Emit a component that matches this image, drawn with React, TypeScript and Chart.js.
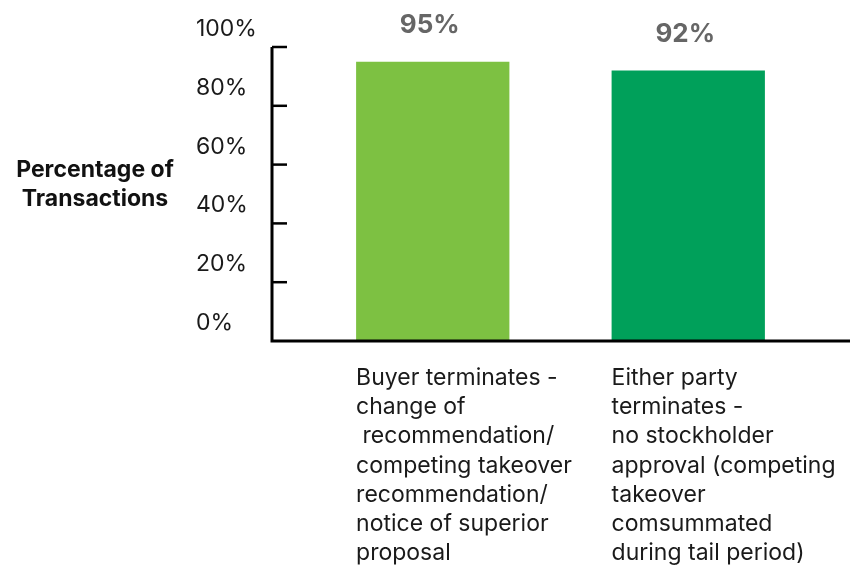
import { useEffect, useRef } from 'react';
import { Chart, registerables } from 'chart.js';

Chart.register(...registerables);

const categories: string[][] = [
  ['Buyer terminates -', 'change of', ' recommendation/', 'competing takeover', 'recommendation/', 'notice of superior', 'proposal'],
  ['Either party', 'terminates -', 'no stockholder', 'approval (competing', 'takeover', 'comsummated', 'during tail period)'],
];
const values = [95, 92];
const valueLabels = ['95%', '92%'];
const barColors = ['#7DC142', '#00A05A'];
const yTickValues = [0, 20, 40, 60, 80, 100];
const yTickLabels = ['0%', '20%', '40%', '60%', '80%', '100%'];
const yTitle = ['Percentage of', 'Transactions'];

const FONT = "Inter, 'Noto Sans', sans-serif";

const decorPlugin = {
  id: 'decor',
  afterDraw(chart: any) {
    const { ctx, chartArea } = chart;
    const y = chart.scales.y;
    const axisX = chartArea.left - 33;
    const right = chart.width;
    const base = y.getPixelForValue(0);
    ctx.save();
    // axes
    ctx.strokeStyle = '#000';
    ctx.lineWidth = 3;
    ctx.beginPath();
    ctx.moveTo(axisX, y.getPixelForValue(100));
    ctx.lineTo(axisX, base);
    ctx.lineTo(right, base);
    ctx.stroke();
    // tick marks & labels
    ctx.lineWidth = 2.5;
    ctx.font = `23px ${FONT}`;
    ctx.fillStyle = '#1a1a1a';
    ctx.textAlign = 'left';
    ctx.textBaseline = 'alphabetic';
    yTickValues.forEach((v, i) => {
      const py = y.getPixelForValue(v);
      if (v > 0) {
        ctx.beginPath();
        ctx.moveTo(axisX, py);
        ctx.lineTo(axisX + 15, py);
        ctx.stroke();
      }
      ctx.fillText(yTickLabels[i], axisX - 76, py - 11);
    });
    // category labels
    const meta = chart.getDatasetMeta(0);
    meta.data.forEach((bar: any, i: number) => {
      const lines = chart.data.labels[i] as string[];
      const left = bar.x - bar.width / 2;
      lines.forEach((line, j) => {
        ctx.fillText(line, left, base + 44 + j * 29.2);
      });
    });
    // axis title
    ctx.font = `bold 23px ${FONT}`;
    ctx.fillStyle = '#111';
    ctx.textAlign = 'center';
    yTitle.forEach((t, i) => {
      ctx.fillText(t, axisX - 177, y.getPixelForValue(60) + 12 + i * 29);
    });
    // value labels
    ctx.font = `bold 26px ${FONT}`;
    ctx.fillStyle = '#666666';
    meta.data.forEach((bar: any, i: number) => {
      ctx.fillText(valueLabels[i], bar.x - 3, bar.y - 29);
    });
    ctx.restore();
  },
};

export default function App() {
  const ref = useRef<HTMLCanvasElement | null>(null);
  useEffect(() => {
    if (!ref.current) return;
    const chart = new Chart(ref.current, {
      type: 'bar',
      data: {
        labels: categories,
        datasets: [
          {
            data: values,
            backgroundColor: barColors,
            barPercentage: 0.6,
            categoryPercentage: 1,
          },
        ],
      },
      options: {
        animation: false,
        responsive: true,
        maintainAspectRatio: false,
        layout: { padding: { left: 305, right: 34, top: 47, bottom: 226 } },
        plugins: { legend: { display: false }, tooltip: { enabled: false } },
        scales: {
          x: { display: false },
          y: { display: false, min: 0, max: 100 },
        },
      },
      plugins: [decorPlugin],
    });
    return () => chart.destroy();
  }, []);
  return (
    <div style={{ position: 'fixed', left: 0, top: 0, width: 850, height: 567 }}>
      <canvas ref={ref} />
    </div>
  );
}
